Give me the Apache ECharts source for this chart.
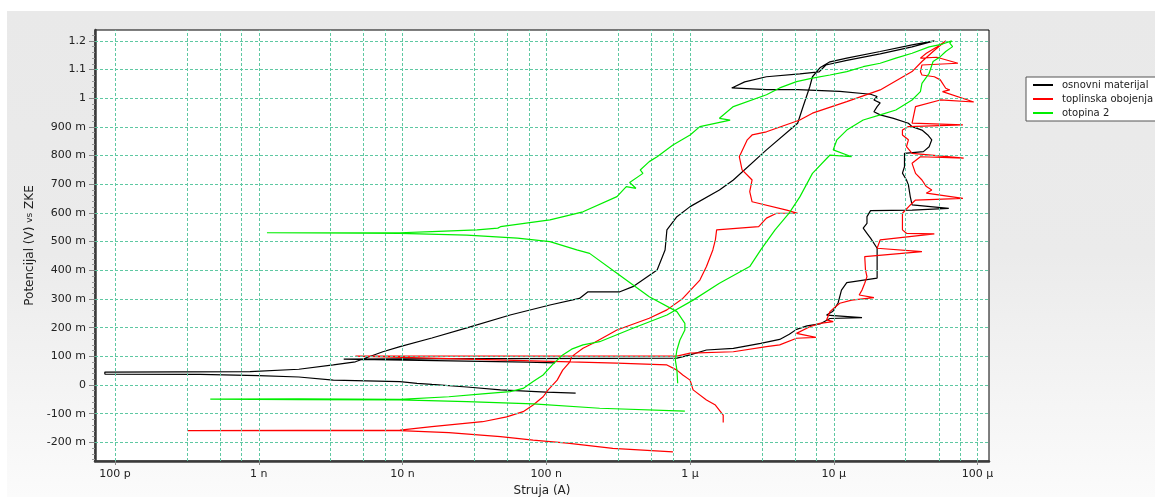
<!DOCTYPE html>
<html><head><meta charset="utf-8">
<script src="https://cdn.jsdelivr.net/npm/echarts@6/dist/echarts.min.js"></script>
<style>
html,body{margin:0;padding:0;background:#fff;width:1155px;height:497px;overflow:hidden;}
#bg{position:absolute;left:7px;top:11px;width:1148px;height:486px;background:linear-gradient(#e9e9e9 0%,#ebebeb 50%,#fbfbfb 100%);}
#c{position:absolute;left:0;top:0;width:1155px;height:497px;}
</style>
</head><body><div id="bg"></div><div id="c"></div>
<script>
// ---- axis ticks ----
const xTickValues = [1e-10, 1e-9, 1e-8, 1e-7, 1e-6, 1e-5, 1e-4];
const xTickLabels = ['100 p', '1 n', '10 n', '100 n', '1 μ', '10 μ', '100 μ'];
const xGridMultipliers = [3.16, 5.43, 7.59];
const xRange = [7.26e-11, 1.2e-4];
const yTickValues = [-0.2, -0.1, 0, 0.1, 0.2, 0.3, 0.4, 0.5, 0.6, 0.7, 0.8, 0.9, 1.0, 1.1, 1.2];
const yTickLabels = ['-200 m', '-100 m', '0', '100 m', '200 m', '300 m', '400 m', '500 m', '600 m', '700 m', '800 m', '900 m', '1', '1.1', '1.2'];
const yRange = [-0.265, 1.238];

const seriesNames = ['osnovni materijal', 'toplinska obojenja', 'otopina 2'];

// ---- osnovni materijal (current A, potential V) ----
const osnovniCurrent = [1.6e-7, 1.0e-7, 4.8e-8, 2.8e-8, 1.6e-8, 1.26e-8, 9.6e-9, 3.3e-9, 1.9e-9, 1.0e-9, 3.9e-10, 8.5e-11, 8.5e-11, 8.7e-10, 1.9e-9, 3.3e-9, 4.7e-9, 7.3e-9, 9.6e-9, 1.6e-8, 2.8e-8, 5.6e-8, 1.06e-7, 1.7e-7, 1.95e-7, 3.25e-7, 4.0e-7, 5.9e-7, 6.7e-7, 6.9e-7, 8.1e-7, 1.0e-6, 1.6e-6, 2.0e-6, 3.4e-6, 5.6e-6, 6.0e-6, 6.8e-6, 7.1e-6, 8.0e-6, 9.4e-6, 1.23e-5, 2.1e-5, 3.5e-5, 5.0e-5,
  3.5e-5, 2.1e-5, 1.23e-5, 8.8e-6, 7.9e-6, 5.8e-6, 3.4e-6, 2.4e-6, 1.95e-6, 3.4e-6, 5.6e-6, 1.1e-5, 1.8e-5, 2.0e-5, 1.9e-5, 2.1e-5, 2.0e-5, 1.9e-5, 2.1e-5, 2.6e-5, 3.3e-5, 3.5e-5, 4.1e-5, 4.5e-5, 4.8e-5, 4.6e-5, 4.2e-5, 3.1e-5, 3.1e-5, 3.0e-5, 3.2e-5, 3.3e-5, 3.4e-5, 3.5e-5, 6.3e-5, 3.5e-5, 1.8e-5, 1.7e-5, 1.7e-5, 1.6e-5, 1.7e-5, 1.8e-5, 2.0e-5, 2.0e-5, 1.23e-5, 1.13e-5, 1.07e-5, 9.8e-6, 8.9e-6, 1.57e-5, 9.4e-6, 8.0e-6, 6.5e-6, 5.5e-6, 4.9e-6, 4.2e-6, 3.1e-6, 2.0e-6, 1.3e-6, 1.0e-6, 8.1e-7, 2.35e-7, 4.8e-8, 9.6e-9, 3.9e-9, 7.4e-8, 1.15e-7];
const osnovniPotential = [-0.028, -0.025, -0.017, -0.007, 0.002, 0.006, 0.012, 0.017, 0.028, 0.033, 0.037, 0.038, 0.045, 0.047, 0.055, 0.070, 0.081, 0.116, 0.134, 0.164, 0.199, 0.244, 0.279, 0.302, 0.325, 0.325, 0.343, 0.401, 0.471, 0.541, 0.587, 0.622, 0.680, 0.715, 0.820, 0.913, 0.959, 1.040, 1.075, 1.106, 1.127, 1.140, 1.163, 1.186, 1.200,
  1.179, 1.155, 1.132, 1.116, 1.092, 1.085, 1.075, 1.057, 1.036, 1.030, 1.030, 1.024, 1.014, 1.006, 0.994, 0.984, 0.971, 0.953, 0.942, 0.930, 0.913, 0.901, 0.889, 0.872, 0.855, 0.831, 0.814, 0.808, 0.761, 0.739, 0.715, 0.698, 0.657, 0.628, 0.616, 0.610, 0.608, 0.587, 0.564, 0.547, 0.529, 0.512, 0.477, 0.373, 0.357, 0.331, 0.286, 0.256, 0.244, 0.235, 0.232, 0.213, 0.206, 0.194, 0.177, 0.159, 0.145, 0.128, 0.122, 0.105, 0.094, 0.093, 0.092, 0.091, 0.090, 0.080, 0.077];

// ---- toplinska obojenja ----
const toplinskaCurrent = [7.6e-7, 2.9e-7, 1.4e-7, 8.1e-8, 4.8e-8, 2.1e-8, 9.6e-9, 1.9e-9, 3.2e-10, 1.9e-9, 9.6e-9, 1.6e-8, 3.6e-8, 5.3e-8, 6.9e-8, 8.1e-8, 9.5e-8, 1.03e-7, 1.19e-7, 1.3e-7, 1.46e-7, 1.5e-7, 1.8e-7, 2.1e-7, 3.1e-7, 5.2e-7, 6.9e-7, 8.9e-7, 1.17e-6, 1.3e-6, 1.44e-6, 1.5e-6, 1.53e-6, 3.0e-6, 3.4e-6, 4.0e-6, 5.6e-6, 4.7e-6, 2.7e-6, 2.6e-6, 2.7e-6, 2.3e-6, 2.2e-6, 2.5e-6, 2.7e-6, 3.4e-6, 5.8e-6, 7.1e-6, 1.23e-5, 2.1e-5, 3.5e-5, 4.1e-5, 4.9e-5, 6.0e-5,
  5.2e-5, 4.4e-5, 4.0e-5, 5.2e-5, 7.3e-5, 4.1e-5, 4.0e-5, 4.1e-5, 5.0e-5, 5.5e-5, 6.0e-5, 6.4e-5, 5.7e-5, 9.4e-5, 5.5e-5, 3.7e-5, 3.5e-5, 7.9e-5, 3.3e-5, 3.0e-5, 3.0e-5, 3.3e-5, 3.2e-5, 3.5e-5, 8.0e-5, 4.0e-5, 3.5e-5, 3.7e-5, 4.1e-5, 4.4e-5, 4.8e-5, 4.4e-5, 7.9e-5, 3.7e-5, 3.5e-5, 3.0e-5, 3.0e-5, 3.2e-5, 5.0e-5, 2.1e-5, 2.0e-5, 4.1e-5, 1.64e-5, 1.66e-5, 1.7e-5, 1.64e-5, 1.57e-5, 1.5e-5, 1.9e-5, 1.33e-5, 1.1e-5, 1.0e-5, 9.4e-6, 8.9e-6, 9.9e-6, 8.0e-6, 6.8e-6, 5.5e-6, 7.5e-6, 5.5e-6, 4.2e-6, 3.4e-6, 2.0e-6, 1.0e-6, 8.1e-7, 1.06e-7, 2.1e-8, 4.7e-9, 3.1e-7, 6.9e-7, 8.1e-7, 8.9e-7, 1.0e-6, 1.05e-6, 1.3e-6, 1.5e-6, 1.7e-6, 1.7e-6];
const toplinskaPotential = [-0.233, -0.221, -0.203, -0.192, -0.180, -0.166, -0.159, -0.159, -0.159, -0.158, -0.157, -0.145, -0.128, -0.111, -0.093, -0.070, -0.041, -0.017, 0.017, 0.052, 0.081, 0.099, 0.128, 0.145, 0.192, 0.233, 0.262, 0.302, 0.366, 0.413, 0.471, 0.506, 0.541, 0.552, 0.582, 0.599, 0.599, 0.610, 0.639, 0.674, 0.715, 0.750, 0.796, 0.855, 0.872, 0.883, 0.924, 0.948, 0.988, 1.029, 1.093, 1.128, 1.163, 1.200,
  1.179, 1.157, 1.140, 1.143, 1.122, 1.116, 1.093, 1.081, 1.075, 1.064, 1.035, 1.029, 1.023, 0.987, 0.994, 0.971, 0.913, 0.907, 0.901, 0.889, 0.872, 0.855, 0.831, 0.808, 0.791, 0.796, 0.773, 0.738, 0.715, 0.692, 0.680, 0.669, 0.651, 0.645, 0.634, 0.599, 0.541, 0.529, 0.527, 0.506, 0.477, 0.465, 0.448, 0.401, 0.378, 0.355, 0.331, 0.314, 0.305, 0.296, 0.285, 0.268, 0.256, 0.227, 0.221, 0.215, 0.203, 0.180, 0.166, 0.163, 0.140, 0.134, 0.116, 0.111, 0.101, 0.101, 0.101, 0.101, 0.076, 0.070, 0.052, 0.035, 0.017, -0.017, -0.052, -0.070, -0.105, -0.131];

// ---- otopina 2 ----
const otopinaCurrent = [9.2e-7, 2.35e-7, 8.1e-8, 2.8e-8, 9.6e-9, 1.9e-9, 4.6e-10, 1.9e-9, 9.6e-9, 2.1e-8, 3.6e-8, 5.6e-8, 6.9e-8, 8.1e-8, 9.5e-8, 1.1e-7, 1.3e-7, 1.5e-7, 1.8e-7, 2.35e-7, 4.0e-7, 6.9e-7, 1.05e-6, 1.6e-6, 2.6e-6, 3.1e-6, 3.9e-6, 4.9e-6, 5.8e-6, 7.1e-6, 9.4e-6, 1.33e-5, 9.9e-6, 1.05e-5, 1.23e-5, 1.6e-5, 2.1e-5, 2.7e-5, 3.5e-5, 4.0e-5, 4.1e-5, 4.6e-5, 4.9e-5, 5.5e-5, 6.0e-5, 6.7e-5, 6.4e-5, 6.6e-5,
  5.7e-5, 4.6e-5, 3.5e-5, 2.7e-5, 2.1e-5, 1.6e-5, 1.23e-5, 9.4e-6, 7.1e-6, 5.5e-6, 4.2e-6, 3.4e-6, 2.0e-6, 1.6e-6, 1.9e-6, 1.17e-6, 1.0e-6, 7.6e-7, 5.9e-7, 5.2e-7, 4.5e-7, 4.7e-7, 3.8e-7, 4.2e-7, 3.6e-7, 3.1e-7, 1.8e-7, 1.06e-7, 4.8e-8, 4.6e-8, 3.3e-8, 1.6e-8, 9.6e-9, 1.14e-9, 9.6e-9, 2.8e-8, 6.3e-8, 1.06e-7, 1.63e-7, 2.0e-7, 3.1e-7, 5.2e-7, 8.1e-7, 9.2e-7, 9.2e-7, 8.5e-7, 8.1e-7, 7.9e-7, 8.1e-7, 8.2e-7];
const otopinaPotential = [-0.091, -0.081, -0.066, -0.058, -0.052, -0.051, -0.049, -0.048, -0.050, -0.041, -0.031, -0.023, -0.012, 0.012, 0.035, 0.070, 0.105, 0.125, 0.140, 0.151, 0.198, 0.244, 0.296, 0.355, 0.413, 0.471, 0.541, 0.600, 0.656, 0.738, 0.802, 0.796, 0.820, 0.855, 0.889, 0.924, 0.942, 0.959, 0.994, 1.023, 1.052, 1.087, 1.128, 1.145, 1.163, 1.180, 1.192, 1.200,
  1.189, 1.179, 1.157, 1.140, 1.122, 1.110, 1.093, 1.081, 1.070, 1.058, 1.036, 1.012, 0.971, 0.930, 0.924, 0.901, 0.872, 0.837, 0.796, 0.779, 0.750, 0.738, 0.706, 0.686, 0.692, 0.657, 0.604, 0.576, 0.552, 0.547, 0.541, 0.535, 0.531, 0.531, 0.529, 0.523, 0.512, 0.500, 0.471, 0.459, 0.390, 0.308, 0.256, 0.215, 0.192, 0.157, 0.122, 0.087, 0.052, 0.006];

// ---- build chart ----
const FONT = 'DejaVu Sans';
const lg = v => Math.log10(v);
function pairs(I, E) {
  const n = Math.min(I.length, E.length), out = [];
  for (let i = 0; i < n; i++) out.push([lg(I[i]), E[i]]);
  return out;
}
const xTickLogs = xTickValues.map(lg);
function xLabel(v) {
  const i = xTickLogs.findIndex(t => Math.abs(t - v) < 1e-6);
  return i >= 0 ? xTickLabels[i] : '';
}
function yLabel(v) {
  const i = yTickValues.findIndex(t => Math.abs(t - v) < 1e-6);
  return i >= 0 ? yTickLabels[i] : '';
}
const gridLines = [];
xTickValues.forEach((d, i) => {
  gridLines.push({ xAxis: lg(d) });
  if (i < xTickValues.length - 1) xGridMultipliers.forEach(m => gridLines.push({ xAxis: lg(d * m) }));
});
yTickValues.forEach(v => gridLines.push({ yAxis: v }));
const yMinor = [];
for (let k = -13; k <= 61; k++) if (k % 5 !== 0) yMinor.push(k * 0.02);

const colors = ['#000000', '#ff0000', '#00ee00'];
const lineSeries = [
  pairs(osnovniCurrent, osnovniPotential),
  pairs(toplinskaCurrent, toplinskaPotential),
  pairs(otopinaCurrent, otopinaPotential)
].map((d, i) => ({
  type: 'line', name: seriesNames[i], data: d, symbol: 'none', showSymbol: false,
  lineStyle: { color: colors[i], width: 1.2 }, itemStyle: { color: colors[i] },
  clip: true, z: 3 + i, silent: true
}));

const chart = echarts.init(document.getElementById('c'), null, { renderer: 'canvas', width: 1155, height: 497 });
chart.setOption({
  animation: false,
  backgroundColor: 'transparent',
  grid: { left: 95, top: 30, width: 894, height: 431, show: true, backgroundColor: '#ffffff', borderColor: '#000000', borderWidth: 1, containLabel: false, outerBoundsMode: 'none' },
  legend: {
    data: seriesNames, orient: 'vertical', left: 1026, top: 77,
    padding: [2, 7, 2, 7], itemGap: 2, itemWidth: 20, itemHeight: 2, icon: 'rect',
    backgroundColor: '#ffffff', borderColor: '#555555', borderWidth: 1, borderRadius: 0,
    textStyle: { fontFamily: FONT, fontSize: 10, color: '#222', lineHeight: 12, padding: [0, 0, 0, 4] },
    selectedMode: false
  },
  xAxis: {
    type: 'value', min: lg(xRange[0]), max: lg(xRange[1]),
    axisLine: { show: true, onZero: false, lineStyle: { color: '#3a3a3a', width: 2.5 } },
    axisTick: { show: true, customValues: xTickLogs, length: 4, lineStyle: { color: '#888' } },
    axisLabel: { customValues: xTickLogs, formatter: xLabel, margin: 8, fontFamily: FONT, fontSize: 11, color: '#222' },
    splitLine: { show: false },
    name: 'Struja (A)', nameLocation: 'middle', nameGap: 23,
    nameTextStyle: { fontFamily: FONT, fontSize: 12, color: '#222' }
  },
  yAxis: [{
    type: 'value', min: yRange[0], max: yRange[1],
    axisLine: { show: true, onZero: false, lineStyle: { color: '#3a3a3a', width: 2.5 } },
    axisTick: { show: true, customValues: yTickValues, length: 6, lineStyle: { color: '#888' } },
    axisLabel: { customValues: yTickValues, formatter: yLabel, margin: 9, fontFamily: FONT, fontSize: 11, color: '#222' },
    splitLine: { show: false },
    name: 'Potencijal (V) {s|vs} ZKE', nameLocation: 'middle', nameGap: 59,
    nameTextStyle: { fontFamily: FONT, fontSize: 12, color: '#222', rich: { s: { fontFamily: FONT, fontSize: 9, color: '#222' } } }
  }, {
    type: 'value', min: yRange[0], max: yRange[1], position: 'left',
    axisLine: { show: false },
    axisTick: { show: true, customValues: yMinor, length: 3, lineStyle: { color: '#999' } },
    axisLabel: { show: false }, splitLine: { show: false }
  }],
  series: [{
    type: 'line', name: '_grid', data: [], silent: true, z: 1,
    markLine: {
      silent: true, symbol: ['none', 'none'], label: { show: false }, animation: false,
      lineStyle: { color: '#5ec8a2', width: 1, type: [3, 2] },
      emphasis: { disabled: true },
      data: gridLines
    }
  }].concat(lineSeries)
});
</script>
</body></html>
